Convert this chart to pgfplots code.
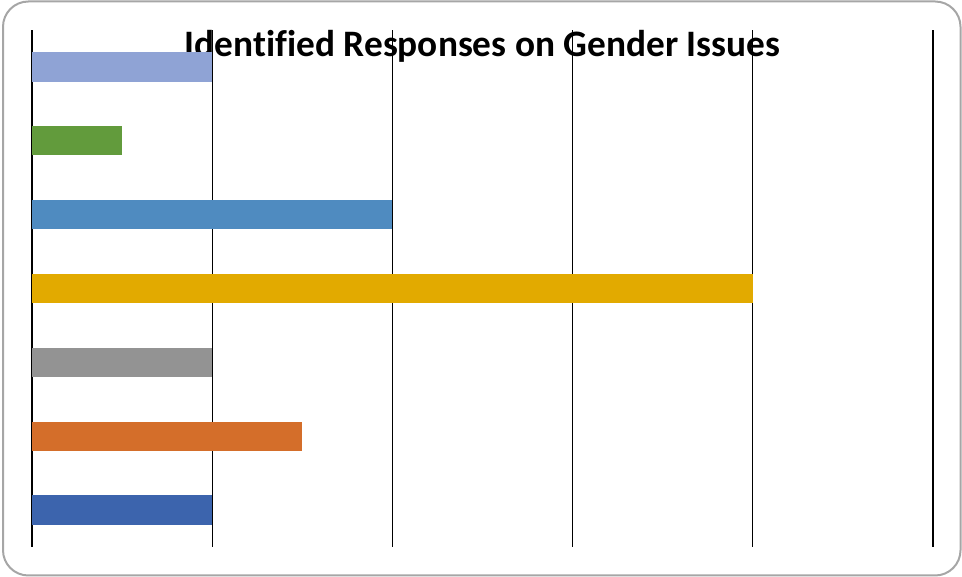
\documentclass[border=0pt]{standalone}
\usepackage{pgfplots}
\pgfplotsset{compat=1.18}
\usepackage{fontspec}
\setmainfont[Ligatures=NoCommon]{Carlito}
\definecolor{c1}{HTML}{3C64AD}
\definecolor{c2}{HTML}{D46E2A}
\definecolor{c3}{HTML}{939393}
\definecolor{c4}{HTML}{E2AA00}
\definecolor{c5}{HTML}{4F8BC0}
\definecolor{c6}{HTML}{629B3C}
\definecolor{c7}{HTML}{8FA3D5}
\definecolor{frame}{HTML}{A6A6A6}
\begin{document}
\begin{tikzpicture}[x=0.75pt,y=0.75pt]
\useasboundingbox (0,0) rectangle (962,577);
\draw[frame, line width=1.5pt, rounded corners=19pt] (3,1.5) rectangle (960.5,575.5);
\node[anchor=base, font=\bfseries\fontsize{28pt}{34pt}\selectfont, inner sep=0pt] at (482.5,520) {Identified Responses on Gender Issues};
\begin{axis}[
  at={(24pt,22.5pt)}, anchor=south west,
  scale only axis, width=675.75pt, height=387.75pt,
  xbar, bar width=22pt, bar shift=0pt,
  xmin=0, xmax=5, ymin=-0.5, ymax=6.5,
  xtick={0,1,2,3,4,5}, xticklabels={}, ytick=\empty,
  xmajorgrids, grid style={black, line width=1pt},
  axis line style={draw=none}, major tick length=0pt,
  clip=false,
]
\addplot[fill=c1, draw=none] coordinates {(1,0)};
\addplot[fill=c2, draw=none] coordinates {(1.5,1)};
\addplot[fill=c3, draw=none] coordinates {(1,2)};
\addplot[fill=c4, draw=none] coordinates {(4,3)};
\addplot[fill=c5, draw=none] coordinates {(2,4)};
\addplot[fill=c6, draw=none] coordinates {(0.5,5)};
\addplot[fill=c7, draw=none] coordinates {(1,6)};
\end{axis}
\end{tikzpicture}
\end{document}
